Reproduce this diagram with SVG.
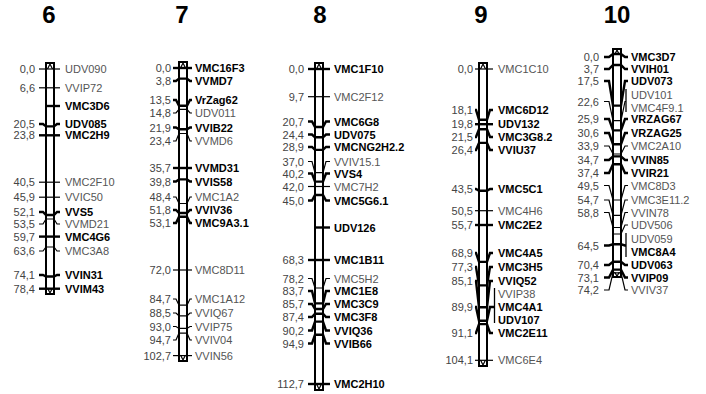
<svg xmlns="http://www.w3.org/2000/svg" width="706" height="394" viewBox="0 0 706 394">
<style>
.bg{fill:#fff}
.bar{fill:#fff;stroke:#000;stroke-width:2}
.cap{fill:none;stroke:#000;stroke-width:1.2}
.t{fill:none;stroke:#000;stroke-width:1.2}
.tb{fill:none;stroke:#000;stroke-width:2.4}
.br{fill:none;stroke:#000;stroke-width:1.3}
text{font-family:"Liberation Sans",Arial,sans-serif;font-size:11px}
.n{fill:#444;text-anchor:end}
.l{fill:#555}
.b{fill:#000;font-weight:bold}
.h{font-size:24px;font-weight:bold;text-anchor:middle;fill:#000}
</style>
<rect class="bg" x="0" y="0" width="706" height="394"/>

<g id="chr6">
<text class="h" x="49" y="23">6</text>
<rect class="bar" x="46" y="63" width="8" height="231"/>
<g id="chr6-connectors">
<path class="cap" d="M45,63H55M47.5,69L50,64L52.5,69M45,294H55M47.5,288L50,293L52.5,288"/>
<path class="t" d="M39,69H60"/>
<path class="t" d="M39,87.8H60"/>
<path class="tb" d="M46,106H60"/>
<path class="tb" d="M39,124H43L46,126.4H54L57,124H60"/>
<path class="tb" d="M39,135.3H60"/>
<path class="t" d="M39,182.2H60"/>
<path class="t" d="M39,197.2H60"/>
<path class="tb" d="M39,212H43L46,215H54L57,212H60"/>
<path class="t" d="M39,224H43L46,219H54L57,224H60"/>
<path class="tb" d="M39,236.6H60"/>
<path class="t" d="M39,251H43L46,247H54L57,251H60"/>
<path class="tb" d="M39,275H43L46,276.5H54L57,275H60"/>
<path class="tb" d="M39,288.7H60"/>
</g>
<text class="n" x="35" y="73">0,0</text><text class="l" x="65" y="73">UDV090</text>
<text class="n" x="35" y="92">6,6</text><text class="l" x="65" y="92">VVIP72</text>
<text class="b" x="65" y="110">VMC3D6</text>
<text class="n" x="35" y="128">20,5</text><text class="b" x="65" y="128">UDV085</text>
<text class="n" x="35" y="139">23,8</text><text class="b" x="65" y="139">VMC2H9</text>
<text class="n" x="35" y="186">40,5</text><text class="l" x="65" y="186">VMC2F10</text>
<text class="n" x="35" y="201">45,9</text><text class="l" x="65" y="201">VVIC50</text>
<text class="n" x="35" y="216">52,1</text><text class="b" x="65" y="216">VVS5</text>
<text class="n" x="35" y="228">53,5</text><text class="l" x="65" y="228">VVMD21</text>
<text class="n" x="35" y="241">59,7</text><text class="b" x="65" y="241">VMC4G6</text>
<text class="n" x="35" y="255">63,6</text><text class="l" x="65" y="255">VMC3A8</text>
<text class="n" x="35" y="279">74,1</text><text class="b" x="65" y="279">VVIN31</text>
<text class="n" x="35" y="293">78,4</text><text class="b" x="65" y="293">VVIM43</text>
</g>

<g id="chr7">
<text class="h" x="182" y="23">7</text>
<rect class="bar" x="179" y="62" width="8" height="299"/>
<g id="chr7-connectors">
<path class="cap" d="M178,62H188M180.5,68L183,63L185.5,68M178,361H188M180.5,355L183,360L185.5,355"/>
<path class="tb" d="M173,68H192"/>
<path class="tb" d="M173,81H176L179,78.6H187L190,81H192"/>
<path class="tb" d="M173,100H176L179,105.8H187L190,100H192"/>
<path class="t" d="M173,113H176L179,109.4H187L190,113H192"/>
<path class="tb" d="M173,127.5H176L179,129.3H187L190,127.5H192"/>
<path class="t" d="M173,141H176L179,133.5H187L190,141H192"/>
<path class="tb" d="M173,168H192"/>
<path class="tb" d="M173,181.5H176L179,179.4H187L190,181.5H192"/>
<path class="t" d="M173,197H176L179,203.5H187L190,197H192"/>
<path class="tb" d="M173,210H176L179,213H187L190,210H192"/>
<path class="tb" d="M173,223H176L179,216.7H187L190,223H192"/>
<path class="t" d="M173,270H192"/>
<path class="t" d="M173,299H176L179,305.2H187L190,299H192"/>
<path class="t" d="M173,313H176L179,315.8H187L190,313H192"/>
<path class="t" d="M173,326.5H176L179,328.4H187L190,326.5H192"/>
<path class="t" d="M173,340H176L179,333.2H187L190,340H192"/>
<path class="t" d="M173,355.6H192"/>
</g>
<text class="n" x="171" y="72">0,0</text><text class="b" x="195" y="72">VMC16F3</text>
<text class="n" x="171" y="85">3,8</text><text class="b" x="195" y="85">VVMD7</text>
<text class="n" x="171" y="104">13,5</text><text class="b" x="195" y="104">VrZag62</text>
<text class="n" x="171" y="117">14,8</text><text class="l" x="195" y="117">UDV011</text>
<text class="n" x="171" y="131.5">21,9</text><text class="b" x="195" y="131.5">VVIB22</text>
<text class="n" x="171" y="145">23,4</text><text class="l" x="195" y="145">VVMD6</text>
<text class="n" x="171" y="172">35,7</text><text class="b" x="195" y="172">VVMD31</text>
<text class="n" x="171" y="185.5">39,8</text><text class="b" x="195" y="185.5">VVIS58</text>
<text class="n" x="171" y="201">48,4</text><text class="l" x="195" y="201">VMC1A2</text>
<text class="n" x="171" y="214">51,8</text><text class="b" x="195" y="214">VVIV36</text>
<text class="n" x="171" y="227">53,1</text><text class="b" x="195" y="227">VMC9A3.1</text>
<text class="n" x="171" y="274">72,0</text><text class="l" x="195" y="274">VMC8D11</text>
<text class="n" x="171" y="303">84,7</text><text class="l" x="195" y="303">VMC1A12</text>
<text class="n" x="171" y="317">88,5</text><text class="l" x="195" y="317">VVIQ67</text>
<text class="n" x="171" y="330.5">93,0</text><text class="l" x="195" y="330.5">VVIP75</text>
<text class="n" x="171" y="344">94,7</text><text class="l" x="195" y="344">VVIV04</text>
<text class="n" x="171" y="359.6">102,7</text><text class="l" x="195" y="359.6">VVIN56</text>
</g>

<g id="chr8">
<text class="h" x="320" y="23">8</text>
<rect class="bar" x="315" y="63" width="8" height="327"/>
<g id="chr8-connectors">
<path class="cap" d="M314,63H324M316.5,69L319,64L321.5,69M314,390H324M316.5,384L319,389L321.5,384"/>
<path class="tb" d="M308,69H330"/>
<path class="t" d="M308,96.7H330"/>
<path class="tb" d="M308,121.5H312L315,127H323L326,121.5H330"/>
<path class="tb" d="M308,134.5H312L315,137.3H323L326,134.5H330"/>
<path class="tb" d="M308,147H312L315,149.9H323L326,147H330"/>
<path class="t" d="M308,161.5H312L315,172.6H323L326,161.5H330"/>
<path class="tb" d="M308,173.5H312L315,181.6H323L326,173.5H330"/>
<path class="t" d="M308,186.5H330"/>
<path class="tb" d="M308,200.5H312L315,195H323L326,200.5H330"/>
<path class="tb" d="M315,227.5H330"/>
<path class="tb" d="M308,260H330"/>
<path class="t" d="M308,278.5H312L315,288H323L326,278.5H330"/>
<path class="tb" d="M308,291H312L315,303.4H323L326,291H330"/>
<path class="tb" d="M308,304H312L315,309H323L326,304H330"/>
<path class="tb" d="M308,317H312L315,313.7H323L326,317H330"/>
<path class="tb" d="M308,330.5H312L315,321.6H323L326,330.5H330"/>
<path class="tb" d="M308,343.5H312L315,334.7H323L326,343.5H330"/>
<path class="tb" d="M308,384H330"/>
</g>
<text class="n" x="304" y="73">0,0</text><text class="b" x="334" y="73">VMC1F10</text>
<text class="n" x="304" y="101">9,7</text><text class="l" x="334" y="101">VMC2F12</text>
<text class="n" x="304" y="125.5">20,7</text><text class="b" x="334" y="125.5">VMC6G8</text>
<text class="n" x="304" y="138.5">24,4</text><text class="b" x="334" y="138.5">UDV075</text>
<text class="n" x="304" y="151">28,9</text><text class="b" x="334" y="151">VMCNG2H2.2</text>
<text class="n" x="304" y="165.5">37,0</text><text class="l" x="334" y="165.5">VVIV15.1</text>
<text class="n" x="304" y="177.5">40,2</text><text class="b" x="334" y="177.5">VVS4</text>
<text class="n" x="304" y="190.5">42,0</text><text class="l" x="334" y="190.5">VMC7H2</text>
<text class="n" x="304" y="204.5">45,0</text><text class="b" x="334" y="204.5">VMC5G6.1</text>
<text class="b" x="334" y="231.5">UDV126</text>
<text class="n" x="304" y="264">68,3</text><text class="b" x="334" y="264">VMC1B11</text>
<text class="n" x="304" y="282.5">78,2</text><text class="l" x="334" y="282.5">VMC5H2</text>
<text class="n" x="304" y="295">83,7</text><text class="b" x="334" y="295">VMC1E8</text>
<text class="n" x="304" y="308">85,7</text><text class="b" x="334" y="308">VMC3C9</text>
<text class="n" x="304" y="321">87,4</text><text class="b" x="334" y="321">VMC3F8</text>
<text class="n" x="304" y="334.5">90,2</text><text class="b" x="334" y="334.5">VVIQ36</text>
<text class="n" x="304" y="347.5">94,9</text><text class="b" x="334" y="347.5">VVIB66</text>
<text class="n" x="304" y="387.5">112,7</text><text class="b" x="334" y="387.5">VMC2H10</text>
</g>

<g id="chr9">
<text class="h" x="481" y="23">9</text>
<rect class="bar" x="479" y="63" width="8" height="303"/>
<g id="chr9-connectors">
<path class="cap" d="M478,63H488M480.5,69L483,64L485.5,69M478,366H488M480.5,360L483,365L485.5,360"/>
<path class="t" d="M475,69H493"/>
<path class="tb" d="M475,110H476L479,119.7H487L490,110H493"/>
<path class="tb" d="M475,124.2H493"/>
<path class="tb" d="M475,137H476L479,129.2H487L490,137H493"/>
<path class="tb" d="M475,150H476L479,142.9H487L490,150H493"/>
<path class="tb" d="M475,189H476L479,190.8H487L490,189H493"/>
<path class="t" d="M475,210.7H493"/>
<path class="tb" d="M475,225H493"/>
<path class="tb" d="M475,253H476L479,261.9H487L490,253H493"/>
<path class="tb" d="M475,267H476L479,285.4H487L490,267H493"/>
<path class="tb" d="M475,281H476L479,307.3H487L490,281H493"/>
<path class="tb" d="M475,307H476L479,320.7H487L490,307H494.5"/>
<path class="br" d="M494.5,288V323"/>
<path class="tb" d="M475,333H476L479,324.1H487L490,333H493"/>
<path class="t" d="M475,360.3H493"/>
</g>
<text class="n" x="473" y="73">0,0</text><text class="l" x="498" y="73">VMC1C10</text>
<text class="n" x="473" y="114">18,1</text><text class="b" x="498" y="114">VMC6D12</text>
<text class="n" x="473" y="128">19,8</text><text class="b" x="498" y="128">UDV132</text>
<text class="n" x="473" y="141">21,5</text><text class="b" x="498" y="141">VMC3G8.2</text>
<text class="n" x="473" y="154">26,4</text><text class="b" x="498" y="154">VVIU37</text>
<text class="n" x="473" y="193">43,5</text><text class="b" x="498" y="193">VMC5C1</text>
<text class="n" x="473" y="215">50,5</text><text class="l" x="498" y="215">VMC4H6</text>
<text class="n" x="473" y="229">55,7</text><text class="b" x="498" y="229">VMC2E2</text>
<text class="n" x="473" y="257">68,9</text><text class="b" x="498" y="257">VMC4A5</text>
<text class="n" x="473" y="271">77,3</text><text class="b" x="498" y="271">VMC3H5</text>
<text class="n" x="473" y="285">85,1</text><text class="b" x="498" y="285">VVIQ52</text>
<text class="l" x="498" y="298">VVIP38</text>
<text class="n" x="473" y="311">89,9</text><text class="b" x="498" y="311">VMC4A1</text>
<text class="b" x="498" y="324">UDV107</text>
<text class="n" x="473" y="337">91,1</text><text class="b" x="498" y="337">VMC2E11</text>
<text class="n" x="473" y="364">104,1</text><text class="l" x="498" y="364">VMC6E4</text>
</g>

<g id="chr10">
<text class="h" x="617" y="23">10</text>
<rect class="bar" x="613" y="49" width="8" height="228"/>
<g id="chr10-connectors">
<path class="cap" d="M612,49H622M614.5,55L617,50L619.5,55M612,277H622M614.5,272L617,276L619.5,272"/>
<path class="tb" d="M604,57H609L613,54H621L625,57H628"/>
<path class="tb" d="M604,69H609L613,65H621L625,69H628"/>
<path class="tb" d="M604,81H609L613,105.6H621L625,81H628"/>
<path class="t" d="M604,101.5H609L613,120.7H621L625,101.5H626"/>
<path class="br" d="M626,89V112"/>
<path class="tb" d="M604,119H609L613,130.4H621L625,119H628"/>
<path class="tb" d="M604,133H609L613,144.3H621L625,133H628"/>
<path class="t" d="M604,146H609L613,154H621L625,146H628"/>
<path class="tb" d="M604,160H609L613,156.4H621L625,160H628"/>
<path class="tb" d="M604,173H609L613,164.3H621L625,173H628"/>
<path class="t" d="M604,185.5H609L613,200H621L625,185.5H628"/>
<path class="t" d="M604,200H609L613,215.4H621L625,200H628"/>
<path class="t" d="M604,212.5H609L613,227.5H621L625,212.5H628"/>
<path class="t" d="M613,234H621L625,225H628"/>
<path class="tb" d="M604,245.5H609L613,244.3H621L625,245.5H626"/>
<path class="br" d="M626,233V257"/>
<path class="tb" d="M604,265H609L613,261.7H621L625,265H628"/>
<path class="tb" d="M604,277.5H609L613,269.6H621L625,277.5H628"/>
<path class="t" d="M604,290H609L613,272.9H621L625,290H628"/>
</g>
<text class="n" x="599" y="61">0,0</text><text class="b" x="631" y="61">VMC3D7</text>
<text class="n" x="599" y="73">3,7</text><text class="b" x="631" y="73">VVIH01</text>
<text class="n" x="599" y="85">17,5</text><text class="b" x="631" y="85">UDV073</text>
<text class="l" x="631" y="99">UDV101</text>
<text class="n" x="599" y="105.5">22,6</text>
<text class="l" x="631" y="112">VMC4F9.1</text>
<text class="n" x="599" y="123">25,9</text><text class="b" x="631" y="123">VRZAG67</text>
<text class="n" x="599" y="137">30,6</text><text class="b" x="631" y="137">VRZAG25</text>
<text class="n" x="599" y="150">33,9</text><text class="l" x="631" y="150">VMC2A10</text>
<text class="n" x="599" y="164">34,7</text><text class="b" x="631" y="164">VVIN85</text>
<text class="n" x="599" y="177">37,4</text><text class="b" x="631" y="177">VVIR21</text>
<text class="n" x="599" y="189.5">49,5</text><text class="l" x="631" y="189.5">VMC8D3</text>
<text class="n" x="599" y="204">54,7</text><text class="l" x="631" y="204">VMC3E11.2</text>
<text class="n" x="599" y="216.5">58,8</text><text class="l" x="631" y="216.5">VVIN78</text>
<text class="l" x="631" y="229">UDV506</text>
<text class="l" x="631" y="242.5">UDV059</text>
<text class="n" x="599" y="249.5">64,5</text>
<text class="b" x="631" y="256">VMC8A4</text>
<text class="n" x="599" y="269">70,4</text><text class="b" x="631" y="269">UDV063</text>
<text class="n" x="599" y="281.5">73,1</text><text class="b" x="631" y="281.5">VVIP09</text>
<text class="n" x="599" y="294">74,2</text><text class="l" x="631" y="294">VVIV37</text>
</g>
</svg>
